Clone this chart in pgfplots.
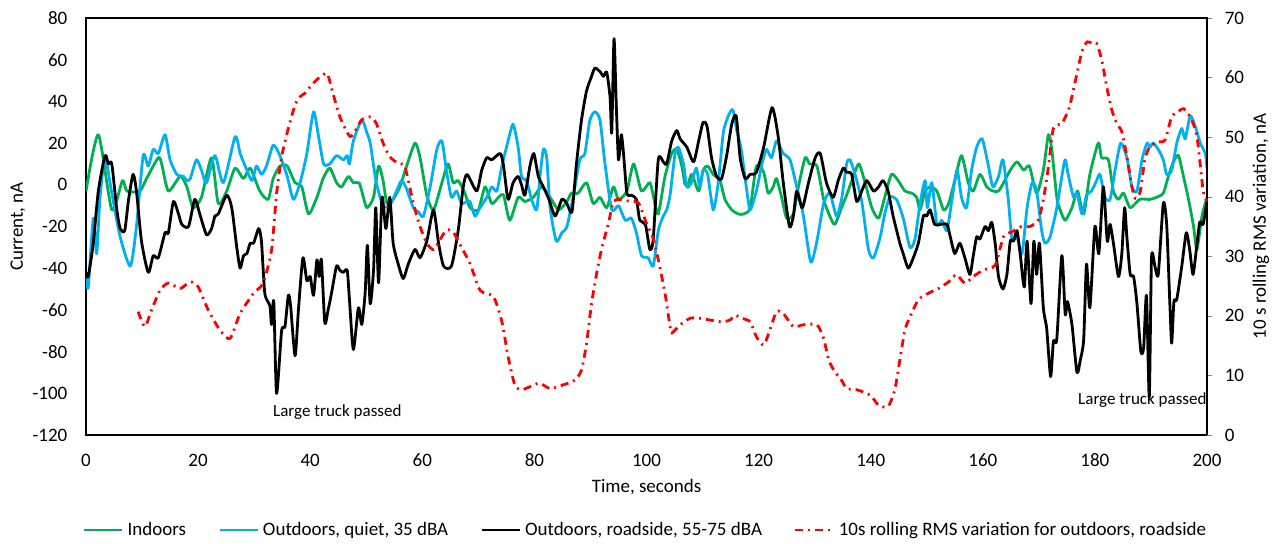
\documentclass[border=0pt]{standalone}
\usepackage{fontspec}
\setmainfont{Carlito}
\usepackage{pgfplots}
\pgfplotsset{compat=1.18}

\definecolor{xlgreen}{HTML}{00B050}
\definecolor{xlblue}{HTML}{00B0F0}
\definecolor{xlred}{HTML}{FF0000}

\pgfplotsset{
  common/.style={
    scale only axis, width=560.5pt, height=208.5pt,
    xmin=0, xmax=200,
    /pgf/number format/assume math mode=true,
    tick label style={font=\fontsize{9.5}{11}\selectfont},
    label style={font=\fontsize{9.5}{11}\selectfont},
    axis line style={line width=0.8pt},
  },
  lineleg/.style={legend image code/.code={\draw[##1] (0pt,0pt) -- (19pt,0pt);}},
}

\begin{document}
\fontsize{9.5}{11}\selectfont
\begin{tikzpicture}
\begin{axis}[common,
  ymin=-120, ymax=80,
  xtick={0,20,...,200}, ytick={-120,-100,...,80},
  major tick length=0pt,
  xtick pos=bottom, ytick pos=left,
  yticklabel style={xshift=-6pt},
  xticklabel style={yshift=-6pt},
  xlabel={Time, seconds},
  ylabel={Current, nA},
  xlabel style={at={(axis description cs:0.5,-0.125)}, anchor=center},
  ylabel style={at={(axis description cs:-0.0607,0.5)}, anchor=center},
  every axis plot/.append style={line width=1.4pt, line join=round, smooth, tension=0.4},
]
% Indoors
\addplot[xlgreen] coordinates {
(0,-3) (2.2,24) (4.6,-12) (6.5,2) (7.3,-3) (9.6,-3) (10.8,3) (12.9,13) (13.5,10) (14.7,-3)
(16.8,4) (18,-1) (19.1,-11) (20.6,-6) (22.4,13) (23.6,-9) (25.1,-3) (26.6,8) (28.1,3) (29.3,8)
(31,-3) (32.5,-7) (33.4,3) (34.6,9) (35.9,9) (37.3,1) (38.5,-1) (39.7,-14) (41.2,-6) (42.3,3)
(43.5,8) (44.7,1) (45.6,-1) (46.8,4) (47.7,1) (48.7,1) (49.2,-3) (50.1,-11) (51.3,-6) (52.2,9)
(53,2) (53.7,-9) (54.8,-7) (56,-1) (57.2,9) (58.7,20) (59.6,13) (60.8,-5) (62,-12) (63.5,1)
(64.6,10) (65.5,1) (66.4,2) (67.6,-4) (68.5,-11) (70,-12) (71.2,-1) (72.4,-9) (73.6,-6) (74.5,-5)
(75.6,-17) (77.1,-6) (78.3,-8) (79.8,-6) (81.3,-1) (82.8,-6) (84.3,-12) (85.8,-8) (86.6,-4) (87.8,-4)
(89.3,1) (90.5,-9) (91.7,-6) (92.9,-11) (94.1,-1) (95,-7) (96.5,-3) (97.7,10) (99.1,-3) (100.6,1)
(101.5,-9) (102.1,-14) (103.3,4) (104.5,15) (105.4,17) (106.3,9) (106.9,0) (107.5,1) (108.1,5) (109.3,-3)
(110.1,7) (110.9,9) (111.9,5) (113.1,2) (114,-7) (115.2,-12) (116.4,-14) (117.3,-14) (118.5,-11) (119.6,9)
(120.9,6) (121.7,-4) (122.6,-1) (123.2,3) (124.1,-6) (125,-16) (126.2,-14) (127.1,-1) (128.3,13) (129.1,10)
(130.4,9) (131.6,-7) (132.7,-15) (133.6,-19) (134.8,-11) (135.7,-5) (136.9,4) (137.9,10) (139,1) (140.2,-11)
(141.4,-16) (142.5,-6) (143.7,5) (144.9,2) (146.1,-3) (147.3,-4) (148.2,-6) (148.8,-12) (149.7,-3) (150.6,-1)
(151.8,-3) (153,-12) (153.9,-9) (155,2) (156.2,14) (157.4,1) (158.3,-3) (159.5,5) (160.7,-1) (161.8,-3)
(162.8,-3) (163.7,1) (164.9,7) (166.1,11) (167.3,7) (168.3,9) (169.6,-4) (170.8,7) (171.7,24) (172.3,17)
(173.2,-6) (173.8,-12) (174.7,-17) (175.9,-11) (176.9,-3) (178,-14) (179.1,5) (180.6,20) (181.2,13) (182.4,12)
(183.3,-3) (184.2,-7) (185.1,-4) (186.3,-11) (188,-7) (189.8,-7) (191,-6) (192.2,-4) (193.1,4) (194,11)
(194.9,14) (195.8,4) (196.7,-7) (197.6,-20) (198.2,-31) (199.1,-15) (200,-6)
};
% Outdoors, quiet
\addplot[xlblue] coordinates {
(0,-44) (0.4,-49) (1.3,-16) (1.9,-33) (2.5,-6) (3.4,13) (4.6,-4) (6.1,-25) (7.9,-39) (9,-20)
(10.2,14) (11.1,9) (12,17) (12.9,15) (14.1,24) (15,12) (16.2,5) (17.4,4) (18,2) (18.6,3)
(19.7,12) (20.6,7) (21.5,1) (23,14) (24.5,1) (26.6,23) (27.5,15) (28.4,9) (29.6,2) (30.4,9)
(31.3,5) (32.2,9) (33.4,19) (34.6,14) (35.9,4) (37,-7) (38.2,1) (39.4,15) (40.6,35) (41.5,23)
(42.4,10) (43.5,10) (44.7,14) (45.9,12) (46.6,14) (47,10) (47.7,21) (49.2,31) (50.1,25) (50.7,20)
(51.8,1) (53,-10) (54.2,-10) (55.4,-3) (56.3,2) (57.2,-2) (58.4,-11) (59.3,-13) (60.2,-15) (61.4,-1)
(62.6,17) (63.5,21) (64.3,7) (65.2,-6) (66.1,-3) (67,-9) (67.9,-8) (68.5,-8) (69.4,-15) (70.3,-11)
(71.5,-6) (72.4,-1) (73.3,-3) (74.2,9) (75.3,21) (76.2,29) (77.1,18) (77.7,4) (78.6,2) (79.5,-7)
(80.4,-12) (81,4) (81.6,17) (82.2,13) (82.8,-11) (83.9,-27) (84.9,-23) (85.8,-20) (86.9,-6) (88.1,12)
(89,15) (89.9,31) (90.8,35) (91.7,31) (92.6,10) (93.8,-12) (95,-10) (96.2,-17) (97.3,-16) (98.2,-23)
(99.1,-34) (100.3,-35) (101.2,-39) (102.1,-22) (103,-15) (103.6,-12) (104.2,-5) (105.1,15) (105.7,18) (106.6,10)
(107.2,-1) (108,1) (108.9,8) (109.5,-1) (110.1,7) (110.9,5) (111.9,-12) (112.8,1) (113.7,25) (114.6,33)
(115.4,36) (116.1,26) (116.9,17) (117.9,-3) (118.5,-12) (119.6,-3) (120.6,10) (121.4,17) (122.3,13) (123.2,21)
(124.4,15) (125.6,12) (126.8,-1) (128,-15) (129.3,-37) (130.4,-27) (131.6,-9) (132.7,-4) (133.9,-15) (134.8,-7)
(135.7,10) (136.3,12) (137.2,5) (138.4,-8) (139.6,-31) (140.5,-35) (141.7,-25) (142.5,-14) (143.4,-6) (144.6,-7)
(145.8,-16) (147,-30) (147.9,-26) (148.8,-9) (149.7,2) (150.1,-11) (150.9,1) (151.8,-19) (152.7,-17) (153.6,-22)
(154.5,-7) (155.4,7) (156.2,-6) (157.1,-11) (158,7) (158.9,18) (159.9,22) (161,9) (161.8,-1) (162.8,4)
(163.6,12) (164.5,-6) (165.2,-26) (166.1,-25) (167,-33) (167.9,-11) (168.8,1) (169.6,-3) (170.5,-22) (171.1,-28)
(172,-25) (173.2,-11) (174.1,4) (174.7,12) (175.3,4) (176.2,-6) (176.8,-4) (177.7,-14) (178.5,-5) (179.4,-3)
(180.3,2) (180.9,5) (181.8,-6) (182.7,-7) (183.6,7) (184.6,20) (185.7,13) (186.6,-1) (187.5,-3) (188.4,12)
(189.3,20) (189.8,18) (190.4,20) (191.3,17) (192.2,12) (192.8,5) (193.7,7) (194.6,20) (195.5,27) (196.1,22)
(197,33) (197.9,28) (198.8,20) (199.7,15) (200,8)
};
% Outdoors, roadside
\addplot[black] coordinates {
(0,-42) (0.4,-44) (1.3,-28) (2.2,-3) (3.4,14) (4,10) (4.6,10) (5.5,-12) (6.1,-21) (6.9,-22)
(7.6,-7) (8.4,5) (9,-3) (9.9,-27) (11.1,-42) (12,-34) (12.9,-35) (14.1,-23) (14.7,-23) (15.6,-8)
(16.5,-14) (17.1,-19) (18.3,-20) (19.4,-7) (20.3,-14) (21.5,-24) (22.4,-21) (23,-15) (23.6,-14) (25.1,-5)
(26,-11) (26.9,-30) (27.5,-40) (28.1,-34) (28.7,-33) (29.3,-28) (29.9,-28) (30.8,-21) (31.3,-27) (31.9,-52)
(32.8,-58) (33.1,-67) (33.5,-56) (34,-100) (34.9,-70) (35.5,-68) (36.1,-53) (36.5,-58) (37.3,-82) (37.9,-60)
(38.7,-35) (39.4,-46) (40,-44) (40.6,-53) (41.2,-36) (41.6,-44) (42,-36) (42.6,-66) (43.2,-60) (43.8,-52)
(44.7,-39) (45.3,-41) (45.9,-42) (46.6,-41) (47,-55) (47.7,-79) (48.6,-59) (49.2,-67) (49.8,-52) (50.2,-29)
(50.7,-57) (51.3,-41) (51.7,-11) (52.2,-47) (52.8,-6) (53.5,-21) (54.2,-6) (54.8,-28) (55.7,-38) (56.6,-45)
(57.5,-38) (58.7,-31) (59.6,-35) (60.8,-27) (62,-12) (62.9,-28) (63.8,-39) (65.2,-39) (66.4,-22) (67.3,-1)
(68,5) (69.7,-3) (70.6,7) (71.5,13) (72.4,12) (73.9,15) (74.5,9) (75.3,-7) (76.2,1) (77.1,4)
(77.7,0) (78.3,-5) (79.2,9) (79.9,15) (80.7,4) (81.6,-1) (82.6,-7) (83.7,-15) (84.9,-7) (85.8,-9)
(86.7,-13) (87.5,10) (88.4,31) (89.3,45) (90.2,52) (90.8,56) (91.8,54) (92.3,52) (92.9,54) (93.5,42)
(93.8,25) (94.2,70) (94.6,39) (95,12) (95.5,24) (95.9,15) (96.5,-4) (97.3,-5) (98.2,-7) (98.8,-17)
(99.8,-19) (100.6,-31) (101.2,-26) (102.1,12) (103,11) (103.6,10) (104.5,21) (105.4,26) (106,22) (107.2,18)
(108.4,11) (109.3,21) (110.1,30) (110.8,28) (111.6,13) (112.5,4) (113.4,3) (114.3,14) (115.2,29) (116,33)
(116.7,13) (117.6,3) (118.5,5) (119.6,6) (120.9,18) (122.4,37) (123.5,23) (124.4,1) (125.5,-20) (126.2,-15)
(126.8,-3) (127.8,-11) (128.9,1) (130.1,13) (131,15) (132.1,1) (133.3,-6) (134.2,2) (135.1,8) (135.7,6)
(136.6,5) (137.5,-8) (138.4,-3) (139.3,2) (140.5,-3) (141.4,-1) (142.2,2) (143.1,-3) (144,-15) (145.2,-28)
(145.8,-33) (146.7,-40) (147.6,-35) (148.5,-28) (149.4,-15) (150,-15) (150.6,-12) (151.4,-19) (152.4,-19) (153.6,-19)
(154.2,-25) (155,-33) (155.9,-28) (156.8,-35) (157.7,-43) (158.3,-34) (158.9,-25) (159.5,-26) (160.4,-20) (161,-22)
(161.6,-18) (162.2,-28) (162.8,-44) (163.6,-50) (164.3,-43) (164.9,-27) (165.5,-27) (166.1,-22) (166.7,-34) (167.4,-49)
(167.9,-27) (168.6,-57) (169.1,-27) (169.6,-43) (170.1,-28) (170.8,-59) (171.4,-69) (172.1,-92) (172.6,-75) (173.2,-74)
(174.1,-34) (174.7,-62) (175.1,-56) (175.9,-67) (176.8,-90) (177.4,-84) (178,-74) (178.5,-38) (179.1,-59) (180,-20)
(180.7,-33) (181.5,-1) (182.2,-27) (182.7,-19) (183.3,-28) (184.2,-44) (184.8,-33) (185.3,-11) (185.7,-25) (186.3,-43)
(186.9,-44) (187.5,-57) (188.2,-80) (188.7,-78) (189.2,-53) (189.7,-102) (190.1,-35) (190.7,-39) (191.3,-43) (192.2,-9)
(192.8,-19) (193.4,-59) (193.7,-76) (194.1,-56) (194.6,-55) (195.5,-39) (196.3,-23) (196.9,-31) (197.5,-43) (198.1,-31)
(198.7,-18) (199.3,-19) (200,-8)
};
\node[anchor=west, font=\fontsize{8.5}{10}\selectfont] at (axis cs:32.2,-109) {Large truck passed};
\node[anchor=east, font=\fontsize{8.5}{10}\selectfont] at (axis cs:201.1,-103.2) {Large truck passed};
\end{axis}

\begin{axis}[common,
  ymin=0, ymax=70, ytick={0,10,...,70},
  axis x line=none, axis y line*=right,
  tick align=outside, major tick length=2.5pt,
  yticklabel style={xshift=3pt},
  ylabel={10 s rolling RMS variation, nA},
  ylabel style={at={(axis description cs:1.048,0.5)}, anchor=center, rotate=0},
  legend columns=4, lineleg,
  legend style={at={(axis description cs:0.5,-0.228)}, anchor=center, draw=none, fill=none,
    font=\fontsize{9.5}{11}\selectfont, /tikz/every even column/.append style={column sep=14pt},
    inner sep=0pt},
  legend cell align=left,
]
\addlegendimage{xlgreen, line width=1.4pt}
\addlegendentry{Indoors}
\addlegendimage{xlblue, line width=1.4pt}
\addlegendentry{Outdoors, quiet, 35 dBA}
\addlegendimage{black, line width=1.4pt}
\addlegendentry{Outdoors, roadside, 55-75 dBA}
\addplot[xlred, line width=1.4pt, line join=round, smooth, tension=0.4, dash pattern=on 4pt off 2.5pt on 1pt off 2.5pt] coordinates {
(9.3,20.7) (10.5,18.2) (11.7,21) (13.2,24.3) (14.7,25.5) (16.8,24.6) (18.6,25.7) (20,24.9) (21.8,21) (23.9,17.6)
(25.7,16.2) (27.5,20.4) (29.9,23.8) (31.6,25.5) (33.1,31) (34,40.5) (34.9,46.7) (36.1,51.5) (37.3,55.4) (38.2,56.8)
(39.1,57.4) (40.3,58.8) (41.5,59.9) (43,60.7) (43.9,57.9) (45.3,53.4) (47.1,50.1) (48.3,51.5) (49.2,52.9) (50.7,53.4)
(51.8,52.3) (53,49) (54.2,46.7) (55.7,45.6) (56.9,45) (58.4,38.9) (59.6,35) (60.8,32.2) (62,31.1) (63.1,32.7)
(64.3,34.4) (65.5,34.1) (66.7,32) (68.5,28.8) (70.3,24.3) (72.7,23.2) (74.2,19) (75.3,13.2) (76.5,8.4) (77.7,7.6)
(79.2,8.1) (80.9,8.7) (82.8,7.8) (85.1,8.4) (87.2,9.2) (88.4,10.9) (89.3,15.4) (90.2,22.1) (91.1,27.1) (92,31.3)
(93.2,35.5) (94.1,39.2) (95.3,39.5) (97.1,39.2) (98.6,38.9) (100,35.5) (101.2,33) (102.1,29.4) (103.3,23.8) (104.2,18.2)
(104.5,17.1) (106,18.5) (107.8,19.6) (109.5,19.6) (111.3,19.3) (113.4,19) (114.9,19.3) (115.8,20.1) (117,19.6) (118.5,19)
(119.6,16.5) (120.9,15.1) (122,17.6) (123.2,20.7) (124.4,20.4) (126.2,18.2) (128,18.5) (130.4,18.5) (131.6,16.2) (132.5,12.6)
(133.6,10.6) (134.8,9.2) (135.7,7.8) (137.5,7.6) (139.9,6.7) (141.4,5) (143.1,4.8) (144.3,7.6) (145.2,12.6) (146.1,17.6)
(147,19.8) (148.5,22.7) (150.3,23.8) (152.1,24.6) (153.9,25.7) (155.3,26.9) (156.8,25.5) (158.3,26.6) (160.1,27.7) (162.2,28.5)
(163.7,33.3) (165.2,34.1) (166.9,35) (168.4,35) (169.9,36.1) (170.8,39.5) (171.7,45) (172.6,51.5) (174.1,52.3) (175.3,54.6)
(175.9,56.8) (176.8,60.7) (177.7,64.4) (178.6,66) (179.4,65.8) (180.3,65.8) (181.2,63) (182.1,58.5) (183,54.6) (183.9,52.3)
(184.8,50.9) (185.7,46.7) (186.6,41.7) (187.2,39.7) (188.1,40.9) (188.9,46.2) (189.8,48.4) (191.3,49.2) (192.5,49.5) (193.7,53.4)
(194.9,54.3) (195.8,54.8) (197,53.4) (198.2,50.1) (199.3,41.1) (200,39.2)
};
\addlegendentry{10s rolling RMS variation for outdoors, roadside}
\end{axis}
\pgfresetboundingbox
\path[use as bounding box] (-43pt,-54.5pt) rectangle (601pt,217.5pt);
\end{tikzpicture}
\end{document}
